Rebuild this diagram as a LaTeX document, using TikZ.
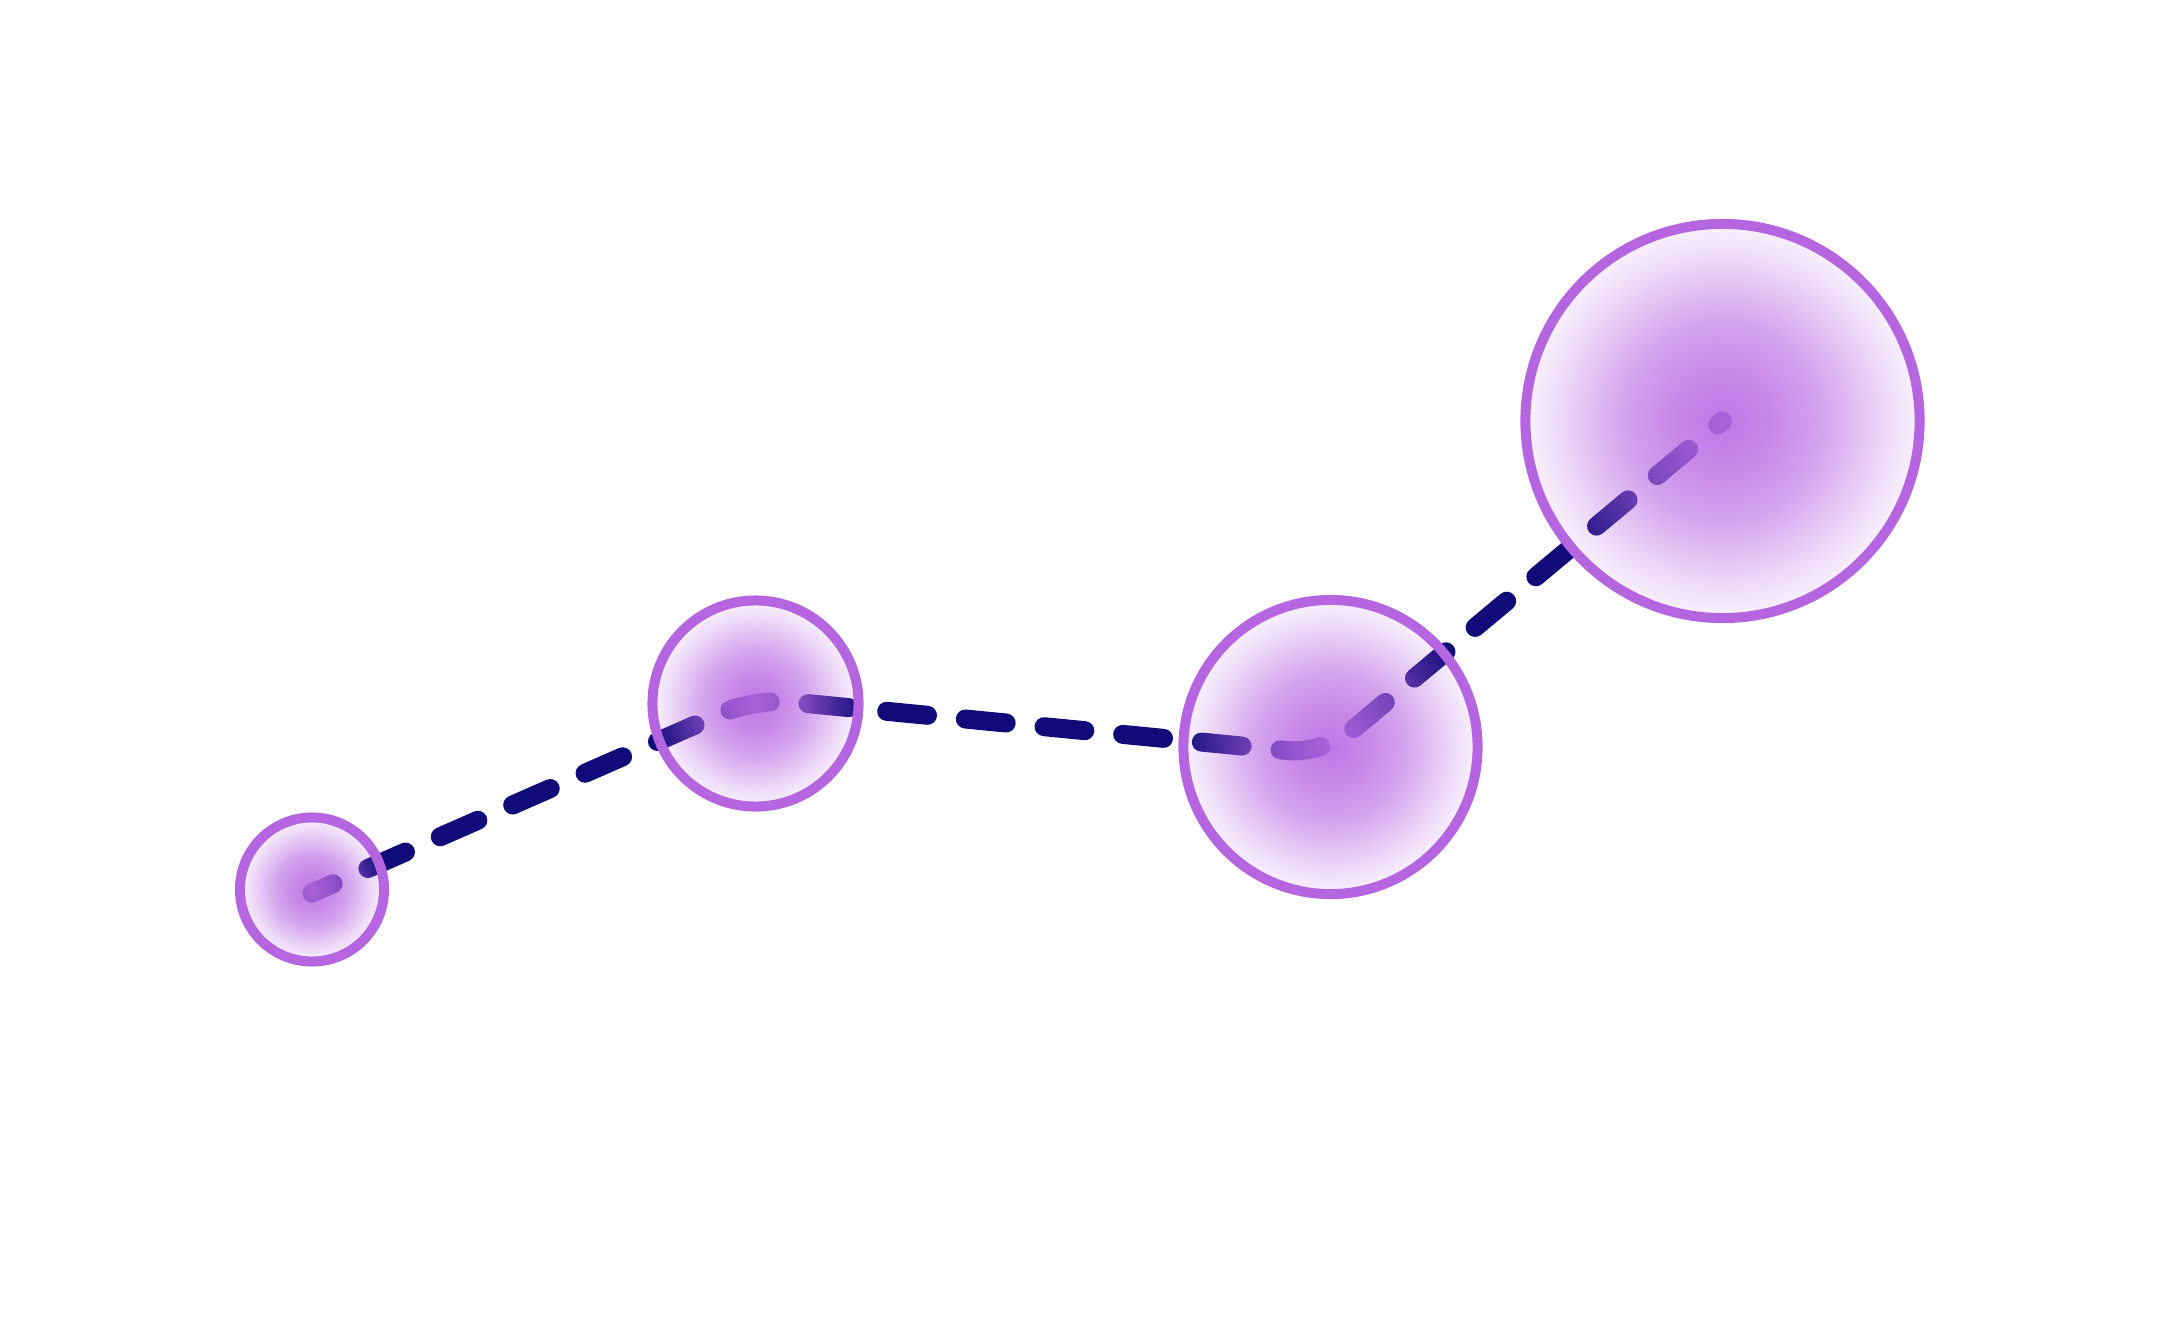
\documentclass[tikz,border=0pt]{standalone}
\usetikzlibrary{fadings,backgrounds}
\definecolor{TrailNavy}  {HTML}{100B79}
\definecolor{RingPurple} {HTML}{B565E0}
\definecolor{GlowPurple} {HTML}{B96AE3}
\pgfdeclareradialshading{glowmask}{\pgfpointorigin}{%
  color(0bp)=(transparent!8); color(6bp)=(transparent!20);
  color(12.5bp)=(transparent!38); color(20bp)=(transparent!72);
  color(25bp)=(transparent!92); color(50bp)=(transparent!100)}
\tikzfading[name=glowfade,shading=glowmask]
\tikzset{
  bubble/.style={circle,draw=RingPurple,line width=0.1cm,inner sep=0pt,
                 minimum size=#1,
                 preaction={fill=GlowPurple,path fading=glowfade}},
  trail/.style={draw=TrailNavy,line width=0.19cm,line cap=round,
                dash pattern=on 0.41cm off 0.38cm,dash phase=0.18cm,
                rounded corners=0.35cm},
}
\begin{document}
\begin{tikzpicture}[x=0.01cm,y=-0.01cm]
  \useasboundingbox (0,0) rectangle (2160,1339);

  \node[bubble=1.44cm] (s1) at (312,889.5) {};
  \node[bubble=2.06cm] (s2) at (755.5,703.5) {};
  \node[bubble=2.94cm] (s3) at (1330.5,747) {};
  \node[bubble=3.94cm] (s4) at (1722.5,421) {};

  \begin{scope}[on background layer]
    \draw[trail] ([yshift=-0.035cm]s1.center) -- ([yshift=0.05cm]s2.center)
      -- ([shift={(-7,7)}]s3.center) -- (s4.center);
  \end{scope}

\end{tikzpicture}
\end{document}
